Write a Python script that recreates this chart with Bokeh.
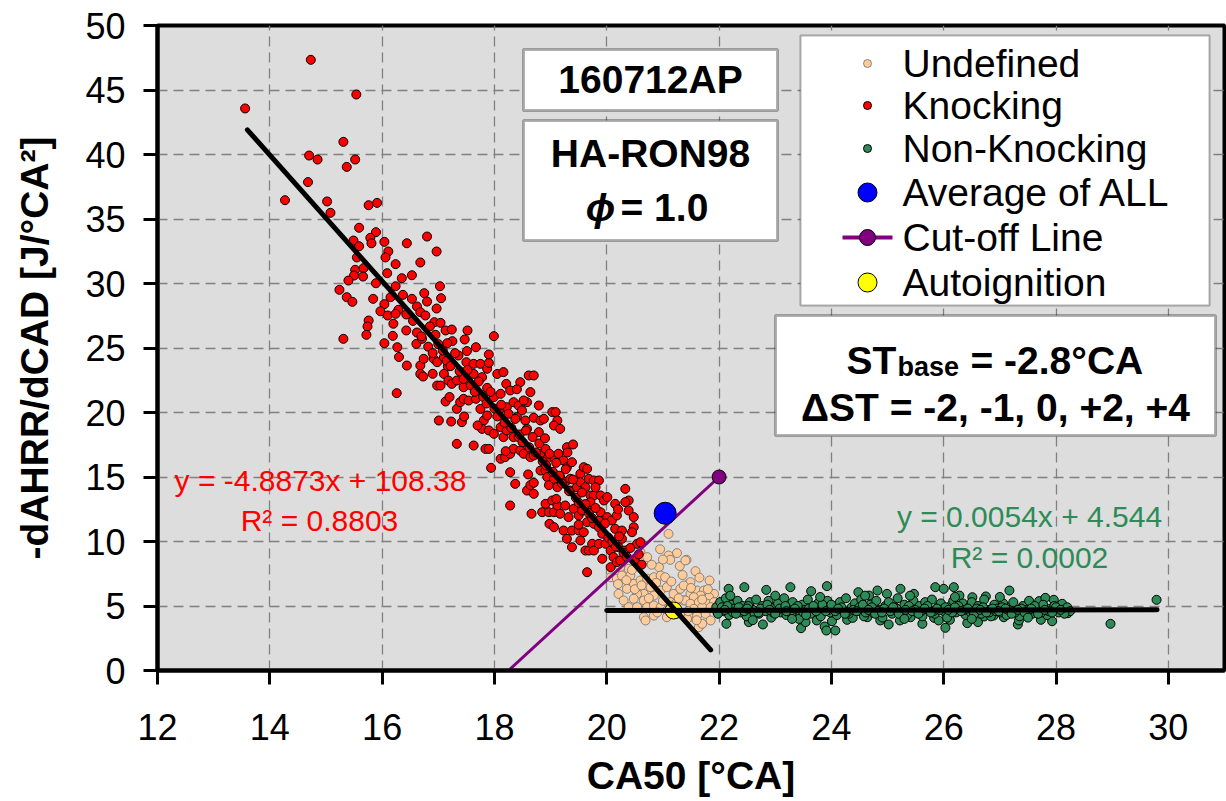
from bokeh.plotting import figure
from bokeh.models import Range1d, BoxAnnotation, Label, FixedTicker
from bokeh.embed import file_html
from bokeh.resources import INLINE

FONT = "Liberation Sans"

# ---------------- data ----------------
knock_x = [14.73, 13.56, 15.54, 15.31, 14.70, 14.85, 15.52, 15.37, 14.68, 14.27, 15.02, 15.08, 15.76, 15.91,
           15.59, 15.89, 15.49, 15.79, 15.81, 15.59, 16.04, 16.44, 16.80, 16.11, 16.97, 16.06, 15.55, 16.24,
           16.68, 15.52, 15.67, 15.50, 15.40, 15.66, 15.24, 15.37, 15.47, 15.84, 15.89, 16.09, 16.35, 16.53,
           16.24, 17.03, 17.05, 16.75, 16.37, 16.15, 16.04, 16.53, 16.80, 16.62, 16.97, 15.97, 16.10, 16.29,
           16.43, 16.24, 16.68, 16.77, 16.93, 17.04, 17.13, 17.24, 17.52, 17.99, 17.47, 17.67, 17.25, 16.95,
           16.85, 16.20, 16.43, 16.19, 15.76, 15.74, 15.72, 15.31, 16.04, 16.27, 16.61, 16.71, 17.16,
           17.36, 17.51, 16.44, 16.68, 16.74, 16.92, 16.98, 17.10, 17.17, 16.68, 16.73, 17.10, 17.18, 17.24,
           17.33, 17.45, 17.50, 17.63, 17.75, 17.87, 17.90, 17.78, 17.63, 18.05, 18.16, 18.21, 18.61, 18.70,
           18.46, 18.64, 18.28, 16.26, 16.98, 17.04, 17.13, 17.33, 17.39, 17.45, 17.54, 17.67, 17.75, 17.87,
           17.99, 18.11, 18.08, 18.22, 18.34, 18.43, 18.49, 18.58, 18.52, 18.40, 18.55, 18.70, 18.79, 18.82,
           18.88, 19.03, 19.09, 19.12, 19.06, 18.79, 18.58, 17.01, 17.23, 17.42, 17.46, 17.81, 17.87, 17.78,
           17.90, 17.99, 18.11, 18.16, 18.22, 18.34, 18.43, 17.33, 17.63, 17.84, 17.90, 18.11, 18.19, 18.28,
           18.34, 18.46, 18.52, 18.64, 18.70, 18.82, 18.91, 18.94, 19.06, 19.14, 19.17, 19.29, 19.40, 19.23,
           19.29, 19.38, 17.94, 18.28, 18.37, 18.58, 18.64, 18.70, 18.70, 18.82, 18.91, 18.94, 18.97, 19.06,
           19.12, 19.17, 19.26, 19.35, 19.35, 19.47, 19.53, 19.59, 19.65, 19.53, 19.62, 19.68, 19.77, 19.86,
           19.71, 19.77, 19.89, 19.95, 20.01, 20.15, 20.33, 20.39, 18.28, 18.66, 18.85, 18.91, 19.03, 18.97,
           19.06, 19.12, 19.17, 19.26, 19.32, 19.41, 19.50, 19.56, 19.65, 19.71, 19.65, 19.77, 19.86, 19.89,
           20.01, 20.09, 20.15, 20.18, 20.27, 20.33, 20.39, 20.48, 20.48, 20.45, 18.98, 19.06, 19.23, 19.29,
           19.38, 19.50, 19.59, 19.38, 19.53, 19.62, 19.68, 19.74, 19.77, 19.86, 19.92, 19.98, 20.07, 20.12,
           20.21, 20.27, 20.33, 20.54, 20.60, 20.07, 19.65, 20.18, 20.24,
           16.55, 16.62, 16.70, 16.82, 16.90, 17.00, 17.08, 17.15, 17.22, 17.30, 17.38, 17.45, 17.52, 17.58,
           17.65, 17.72, 17.80, 17.86, 17.93, 18.00, 18.05, 18.12, 18.18, 18.25, 18.30, 18.37, 18.45, 18.50,
           18.56, 18.62, 18.68, 18.74, 18.80, 18.86, 18.92, 18.98, 19.04, 19.10, 19.16, 19.20, 19.27, 19.33,
           19.40, 19.45, 19.50, 19.56, 19.62, 19.68, 19.74, 19.80, 19.86, 19.92, 19.97, 20.03, 20.10, 20.16,
           20.22, 20.30, 20.36, 20.42, 20.50, 20.57, 20.62, 17.90, 18.40, 18.90, 19.30, 19.80, 20.20, 17.20,
           17.70, 18.20, 18.60, 19.10, 19.50, 16.30, 16.90]
knock_y = [47.34, 43.57, 44.65, 40.98, 39.92, 39.61, 39.61, 39.04, 37.86, 36.46, 36.36, 35.48, 36.07, 36.25,
           34.32, 33.98, 33.33, 33.54, 33.12, 32.89, 33.23, 33.12, 33.64, 32.48, 32.48, 32.02, 32.02, 31.50,
           31.63, 31.06, 31.19, 30.62, 30.23, 30.54, 29.51, 28.94, 28.58, 28.81, 30.02, 30.80, 30.41, 30.64,
           29.79, 29.79, 28.86, 29.25, 29.12, 28.94, 28.40, 28.81, 28.60, 28.22, 28.06, 27.85, 27.52, 27.96,
           27.60, 27.65, 27.78, 27.52, 27.00, 26.95, 26.36, 26.43, 26.36, 25.92, 25.66, 25.06, 25.53, 26.02,
           26.67, 26.88, 26.36, 25.94, 27.13, 26.67, 26.02, 25.71, 25.37, 25.06, 25.32, 25.71, 25.37,
           24.42, 24.76, 23.64, 23.64, 24.16, 24.16, 23.90, 24.29, 23.57, 22.99, 22.79, 22.99, 22.48, 22.22,
           22.48, 21.96, 23.90, 23.77, 23.77, 23.39, 23.85, 22.74, 22.99, 22.99, 23.13, 22.22, 22.87, 22.87,
           22.35, 21.58, 21.71, 21.50, 22.09, 22.09, 20.85, 20.28, 20.80, 21.06, 20.93, 21.06, 20.28, 21.91,
           21.19, 21.45, 20.16, 20.41, 20.80, 20.54, 20.16, 20.80, 20.93, 19.64, 19.38, 19.59, 20.54, 19.38,
           19.51, 20.03, 20.03, 19.38, 18.99, 18.48, 18.73, 19.38, 19.30, 19.25, 19.69, 19.38, 19.77, 18.73,
           18.61, 18.35, 18.86, 18.09, 18.61, 18.09, 18.09, 17.57, 17.44, 17.18, 17.18, 16.41, 16.54, 16.79,
           17.18, 17.05, 16.80, 16.54, 16.67, 16.80, 17.18, 16.41, 16.54, 16.80, 18.73, 17.31, 17.52, 16.28,
           15.76, 16.15, 15.71, 15.37, 14.47, 13.95, 14.37, 14.55, 13.70, 15.50, 15.50, 14.99, 14.37, 14.86,
           14.21, 14.99, 14.60, 14.86, 13.95, 14.21, 15.25, 15.76, 15.63, 14.60, 14.21, 14.86, 14.73, 14.73,
           13.57, 13.57, 13.57, 13.18, 13.44, 12.92, 14.08, 13.18, 12.79, 12.15, 12.27, 12.92, 13.18, 12.27,
           12.27, 12.79, 12.15, 12.79, 11.89, 12.53, 12.02, 12.40, 12.66, 13.05, 11.50, 11.37, 11.63, 12.27,
           11.89, 11.63, 10.98, 12.02, 10.85, 13.05, 12.40, 11.89, 11.11, 10.72, 11.37, 11.11, 10.85, 10.21,
           10.85, 10.85, 10.72, 9.56, 10.08, 9.30, 9.30, 9.82, 9.30, 9.82, 8.66, 9.82, 9.30, 8.79,
           9.56, 10.21, 9.30, 9.82, 9.95, 8.01, 7.62, 8.40, 8.53,
           27.10, 26.20, 25.90, 25.10, 24.60, 25.30, 24.80, 24.00, 23.60, 24.60, 23.20, 22.60, 23.30, 22.10,
           21.60, 22.40, 21.20, 20.70, 21.60, 20.30, 19.70, 20.60, 19.20, 19.90, 18.80, 19.50, 18.30, 17.70,
           18.60, 17.30, 18.10, 16.90, 17.60, 16.20, 15.90, 16.80, 15.40, 16.10, 15.10, 14.50, 15.60, 13.90,
           14.80, 13.40, 13.00, 13.80, 12.90, 12.20, 11.80, 12.60, 11.10, 10.60, 11.40, 10.30, 10.00, 9.60,
           10.40, 9.10, 8.80, 9.50, 8.50, 9.00, 8.20, 24.50, 21.80, 18.00, 16.90, 14.20, 12.50, 21.20,
           19.00, 17.00, 15.20, 13.30, 11.30, 24.30, 23.00]

undef_x = [21.10, 21.25, 21.10, 21.13, 21.42, 21.58, 20.60, 20.66, 20.72, 20.54, 20.39, 20.24, 20.07, 20.18,
           20.27, 20.42, 20.48, 20.60, 20.72, 20.84, 20.93, 20.96, 21.04, 20.78, 20.66, 20.54, 20.36, 20.21,
           20.30, 20.48, 20.66, 20.84, 20.96, 21.07, 21.19, 21.31, 21.46, 21.49, 21.61, 21.13, 21.22, 21.37,
           21.55, 20.72, 20.84, 20.96, 21.07, 21.25, 21.37, 20.66, 20.69, 20.84, 21.07, 20.39, 20.54, 21.64,
           21.55, 21.83, 21.49, 21.37, 21.61, 21.73, 21.91, 21.82, 21.67, 21.55, 21.40, 21.49, 21.64, 21.79,
           21.91, 21.55, 21.70, 21.85, 21.97, 21.46, 21.61, 21.76, 21.43, 21.70, 21.85,
           20.20, 20.35, 20.50, 20.62, 20.75, 20.88, 21.00, 21.15, 21.28, 21.35, 21.50, 21.70, 21.80, 21.95,
           20.90, 21.20, 21.45, 21.60, 20.45, 20.80, 21.00, 20.95, 21.30, 21.65, 21.40]
undef_y = [10.59, 9.10, 8.91, 8.58, 8.58, 7.70, 9.17, 8.53, 8.79, 8.27, 7.88, 8.01, 7.23, 7.11,
           7.36, 7.36, 6.72, 6.98, 7.11, 7.23, 8.01, 7.36, 7.23, 6.46, 5.94, 5.94, 6.33, 5.94,
           5.43, 5.56, 5.43, 5.81, 6.20, 6.46, 5.94, 6.33, 6.72, 5.94, 5.94, 5.30, 5.17, 5.43,
           5.30, 4.91, 5.04, 4.91, 4.65, 4.39, 4.26, 4.13, 3.88, 4.26, 4.13, 4.91, 4.91, 3.36,
           4.13, 6.98, 6.85, 6.59, 6.20, 6.20, 5.94, 5.68, 5.81, 5.68, 5.43, 5.17, 5.30, 5.17,
           5.30, 4.78, 4.91, 4.91, 5.04, 4.26, 4.26, 4.39, 4.01, 3.62, 3.88,
           6.70, 7.00, 6.30, 6.60, 5.60, 6.80, 5.40, 6.90, 5.60, 7.40, 6.40, 5.50, 6.30, 4.60,
           4.50, 4.90, 4.60, 3.90, 7.80, 8.20, 8.60, 9.40, 8.10, 7.20, 8.53]

nonknock_x = [22.17, 22.45, 22.84, 23.27, 23.64, 23.92, 24.48, 24.67, 24.82, 24.99, 25.23, 25.47, 25.85, 26.00,
              26.18, 26.28, 26.51, 26.75, 27.17, 27.70, 27.81, 27.96, 28.11, 29.79,
              22.13, 22.53, 22.78, 23.46, 23.54, 23.74, 23.88, 23.91, 24.07, 24.01, 24.28, 24.38, 24.64, 24.87,
              25.02, 25.22, 25.41, 25.62, 25.83, 25.91, 26.03, 26.11, 26.42, 26.61, 26.72, 26.89, 27.07, 27.32,
              27.34, 27.73, 27.93, 28.21, 28.97,
              21.95, 22.02, 22.08, 22.12, 22.18, 22.22, 22.27, 22.33, 22.38, 22.42, 22.49, 22.55, 22.60, 22.66,
              22.71, 22.77, 22.83, 22.88, 22.93, 22.99, 23.05, 23.10, 23.16, 23.20, 23.26, 23.31, 23.37, 23.42,
              23.48, 23.53, 23.58, 23.63, 23.70, 23.76, 23.81, 23.86, 23.93, 23.98, 24.04, 24.10, 24.15, 24.20,
              24.26, 24.31, 24.36, 24.42, 24.47, 24.53, 24.58, 24.63, 24.69, 24.74, 24.80, 24.86, 24.91, 24.96,
              25.02, 25.08, 25.13, 25.18, 25.24, 25.30, 25.35, 25.40, 25.46, 25.52, 25.57, 25.62, 25.67, 25.73,
              25.79, 25.84, 25.90, 25.95, 26.00, 26.06, 26.12, 26.17, 26.22, 26.28, 26.34, 26.39, 26.45, 26.50,
              26.56, 26.61, 26.67, 26.72, 26.78, 26.84, 26.90, 26.95, 27.01, 27.06, 27.12, 27.18, 27.24, 27.29,
              27.35, 27.41, 27.47, 27.52, 27.58, 27.64, 27.70, 27.77, 27.84, 27.90, 27.97, 28.05, 28.12, 28.20,
              28.25,
              21.98, 22.05, 22.15, 22.25, 22.35, 22.45, 22.52, 22.63, 22.74, 22.86, 22.96, 23.08, 23.18, 23.29,
              23.40, 23.50, 23.60, 23.73, 23.84, 23.95, 24.07, 24.18, 24.28, 24.39, 24.50, 24.61, 24.72, 24.83,
              24.94, 25.05, 25.16, 25.27, 25.38, 25.49, 25.60, 25.71, 25.82, 25.93, 26.03, 26.15, 26.26, 26.37,
              26.48, 26.59, 26.70, 26.81, 26.93, 27.04, 27.15, 27.27, 27.38, 27.50, 27.62, 27.74, 27.87, 28.00,
              28.15,
              22.10, 22.30, 22.50, 22.70, 22.90, 23.00, 23.20, 23.35, 23.55, 23.68, 23.90, 24.00, 24.12, 24.24,
              24.45, 24.56, 24.66, 24.78, 24.90, 25.10, 25.20, 25.32, 25.44, 25.55, 25.66, 25.77, 25.88, 26.08,
              26.20, 26.31, 26.43, 26.54, 26.65, 26.76, 26.87, 26.98, 27.10, 27.21, 27.32, 27.44, 27.56, 27.68,
              27.80, 27.93, 28.08, 22.20, 23.00, 23.80, 24.60, 25.40, 26.20, 27.00, 22.60, 23.30, 25.30, 26.50,
              27.50]
nonknock_y = [6.33, 6.46, 6.25, 6.46, 6.15, 6.54, 6.07, 5.81, 6.20, 5.94, 6.33, 5.94, 6.46, 6.33,
              6.46, 5.81, 5.68, 5.74, 6.20, 5.38, 5.63, 5.48, 5.17, 5.48,
              3.62, 3.75, 3.57, 3.28, 3.75, 3.88, 3.41, 3.10, 3.10, 3.82, 3.93, 4.08, 4.13, 3.88,
              3.57, 3.88, 4.13, 3.62, 4.08, 3.88, 3.31, 3.93, 3.67, 3.75, 4.19, 4.26, 4.13, 3.57,
              3.88, 3.93, 3.82, 4.44, 3.62,
              4.9, 5.3, 4.6, 5.6, 4.3, 5.1, 4.8, 5.4, 4.5, 5.0, 4.2, 5.3, 4.7, 5.5,
              4.4, 5.0, 4.6, 5.4, 4.1, 4.9, 5.2, 4.5, 5.6, 4.3, 4.9, 5.3, 4.6, 4.0,
              5.1, 4.7, 5.5, 4.4, 4.9, 5.2, 4.2, 4.8, 5.4, 4.5, 5.0, 4.3, 5.3, 4.7,
              5.6, 4.4, 4.9, 5.2, 4.6, 5.5, 4.2, 4.8, 5.1, 4.5, 5.4, 4.7, 4.1, 5.0,
              5.3, 4.4, 4.9, 5.6, 4.6, 5.1, 4.3, 4.8, 5.4, 4.5, 5.0, 4.2, 5.3, 4.7,
              5.5, 4.4, 4.9, 5.2, 4.6, 4.1, 5.0, 5.4, 4.5, 4.8, 5.2, 4.3, 4.9, 5.3,
              4.6, 5.0, 4.4, 5.5, 4.7, 4.2, 5.1, 4.8, 4.5, 5.2, 4.3, 4.9, 5.3, 4.6,
              4.2, 5.0, 4.7, 5.4, 4.4, 4.9, 4.6, 5.1, 4.3, 4.8, 5.0, 4.5, 4.7, 4.9,
              4.6,
              4.4, 4.9, 5.0, 4.5, 4.9, 4.6, 5.0, 4.4, 4.8, 5.1, 4.5, 4.8, 5.0, 4.4,
              5.0, 4.5, 4.8, 4.6, 5.1, 4.7, 4.6, 4.9, 4.5, 4.7, 4.9, 4.5, 4.9, 4.6,
              4.8, 4.6, 4.8, 4.5, 5.0, 4.7, 4.6, 5.0, 4.6, 4.7, 4.9, 4.5, 5.0, 4.7,
              4.5, 4.8, 4.9, 4.5, 4.6, 4.9, 4.7, 4.5, 4.8, 4.6, 5.0, 4.5, 4.6, 4.9,
              4.4,
              4.7, 4.4, 4.8, 4.5, 4.7, 4.4, 4.6, 4.8, 4.3, 5.0, 4.6, 5.1, 4.8, 4.4,
              4.6, 5.1, 4.7, 4.4, 4.5, 4.9, 4.4, 4.7, 4.6, 4.4, 4.8, 4.5, 4.8, 4.7,
              4.9, 4.6, 4.8, 4.4, 4.7, 4.5, 4.8, 4.6, 4.8, 4.4, 4.7, 4.5, 4.8, 4.4,
              4.7, 4.5, 4.7, 5.8, 5.8, 5.7, 5.8, 5.8, 5.7, 5.7, 3.9, 4.0, 4.0, 4.0,
              4.1]

avg_x, avg_y = [21.04], [12.19]
auto_x, auto_y = [21.19], [4.65]
cutoff_x, cutoff_y = [18.25, 22.0], [0.0, 15.0]

knock_slope, knock_icept = -4.8873, 108.38
knock_fit_x = [13.6, 21.85]
nonknock_slope, nonknock_icept = 0.0054, 4.544
nonknock_fit_x = [20.0, 29.8]

x_ticks = [12, 14, 16, 18, 20, 22, 24, 26, 28, 30]
y_ticks = [0, 5, 10, 15, 20, 25, 30, 35, 40, 45, 50]

legend_labels = ["Undefined", "Knocking", "Non-Knocking", "Average of ALL", "Cut-off Line", "Autoignition"]

# ---------------- figure ----------------
FRAME_W, FRAME_H = 1067, 645
p = figure(width=1226, height=801, x_range=Range1d(12, 31), y_range=Range1d(0, 50),
           output_backend="svg", toolbar_location=None,
           min_border_left=157, min_border_right=2, min_border_top=25, min_border_bottom=131)
# pixel ranges of the frame, used only to place the legend symbols
p.extra_x_ranges = {"px": Range1d(0, FRAME_W)}
p.extra_y_ranges = {"px": Range1d(0, FRAME_H)}

p.background_fill_color = "#DDDDDD"
p.border_fill_color = "white"
p.outline_line_color = "black"
p.outline_line_width = 4

for ax, ticks in ((p.xaxis, x_ticks), (p.yaxis, y_ticks)):
    ax.ticker = FixedTicker(ticks=ticks)
    ax.axis_line_width = 4
    ax.axis_line_color = "black"
    ax.major_tick_line_width = 3
    ax.major_tick_line_color = "black"
    ax.major_tick_in = 0
    ax.major_tick_out = 14
    ax.minor_tick_line_color = None
    ax.major_label_text_font = FONT
    ax.major_label_text_font_size = "36px"
    ax.major_label_text_color = "black"
    ax.axis_label_text_font = FONT
    ax.axis_label_text_font_size = "39px"
    ax.axis_label_text_font_style = "bold"
    ax.axis_label_text_color = "black"

p.xaxis.axis_label = "CA50 [°CA]"
p.yaxis.axis_label = "-dAHRR/dCAD [J/°CA²]"
p.xaxis.major_label_standoff = 29
p.yaxis.major_label_standoff = 18
p.xaxis.axis_label_standoff = 11
p.yaxis.axis_label_standoff = 26

for g in (p.xgrid, p.ygrid):
    g.grid_line_color = "#808080"
    g.grid_line_dash = "10 6"
    g.grid_line_width = 1.3

# ---------------- glyphs ----------------
UND = dict(fill_color="#FFCC99", line_color="#6E6E6E", line_width=0.8)
KNK = dict(fill_color="#FF0000", line_color="black", line_width=1)
NON = dict(fill_color="#2E8B57", line_color="black", line_width=1)
AUT = dict(fill_color="#FFFF00", line_color="black", line_width=1)
AVG = dict(fill_color="#0000FF", line_color="black", line_width=1)
CUT = dict(fill_color="#800080", line_color="black", line_width=1)

p.scatter(undef_x, undef_y, size=9, **UND)
p.scatter(knock_x, knock_y, size=9, **KNK)
p.scatter(nonknock_x, nonknock_y, size=9, **NON)
p.scatter(auto_x, auto_y, size=17, **AUT)

kx = knock_fit_x
p.line(kx, [knock_slope * v + knock_icept for v in kx], line_color="black", line_width=5, line_cap="round")
nx = nonknock_fit_x
p.line(nx, [nonknock_slope * v + nonknock_icept for v in nx], line_color="black", line_width=5, line_cap="round")

p.line(cutoff_x, cutoff_y, line_color="#800080", line_width=3)
p.scatter(cutoff_x[-1:], cutoff_y[-1:], size=14, **CUT)
p.scatter(avg_x, avg_y, size=22, **AVG)

# ---------------- texts ----------------
def lab(x, y, text, size, color="black", style="normal", align="center", baseline="middle", level="annotation"):
    l = Label(x=x, y=y, x_units="screen", y_units="screen", text=text, text_font=FONT,
              text_font_size=size, text_font_style=style, text_color=color,
              text_align=align, text_baseline=baseline, level=level)
    p.add_layout(l)
    return l

lab(163, 190, "y = -4.8873x + 108.38", "30px", color="#FF0000")
lab(162, 150, "R² = 0.8803", "30px", color="#FF0000")
lab(872, 154, "y = 0.0054x + 4.544", "30px", color="#2E8B57")
lab(872, 113, "R² = 0.0002", "30px", color="#2E8B57")

# white boxes (below the box texts and legend symbols, above the data)
def box(l, r, t, b, lw=3):
    p.add_layout(BoxAnnotation(left=l, right=r, top=t, bottom=b,
                               left_units="screen", right_units="screen",
                               top_units="screen", bottom_units="screen",
                               fill_color="white", fill_alpha=1.0,
                               line_color="black", line_width=lw, level="annotation"))

box(366, 620, 621, 560)
box(366, 620, 550, 430)
box(618, 1058, 355, 235)
box(643, 1052, 635, 365, lw=2)

def olab(x, y, text, size, style="bold", align="center", baseline="middle"):
    lab(x, y, text, size, style=style, align=align, baseline=baseline, level="overlay")

olab(493, 591, "160712AP", "39px")
olab(493, 517, "HA-RON98", "39px")
olab(443, 463, "ϕ", "39px", style="bold italic")
olab(463, 463, "= 1.0", "39px", align="left")

olab(689, 310, "ST", "39px", align="left", baseline="alphabetic")
olab(740, 304, "base", "27px", align="left", baseline="alphabetic")
olab(813, 310, "= -2.8°CA", "39px", align="left", baseline="alphabetic")
olab(838, 263, "ΔST = -2, -1, 0, +2, +4", "39px")

# ---------------- legend (drawn inside the white box) ----------------
row_y = [607, 565, 522, 478, 433, 388]
sym_x = 710
for lbl, yy in zip(legend_labels, row_y):
    olab(745, yy, lbl, "39px", style="normal", align="left")

leg_kw = dict(x_range_name="px", y_range_name="px", level="overlay")
p.scatter([sym_x], [row_y[0]], size=8, **UND, **leg_kw)
p.scatter([sym_x], [row_y[1]], size=8, **KNK, **leg_kw)
p.scatter([sym_x], [row_y[2]], size=8, **NON, **leg_kw)
p.scatter([sym_x], [row_y[3]], size=19, **AVG, **leg_kw)
p.line([sym_x - 25, sym_x + 25], [row_y[4], row_y[4]], line_color="#800080", line_width=4, **leg_kw)
p.scatter([sym_x], [row_y[4]], size=16, **CUT, **leg_kw)
p.scatter([sym_x], [row_y[5]], size=19, **AUT, **leg_kw)

open("out.html", "w").write(file_html(p, INLINE))
